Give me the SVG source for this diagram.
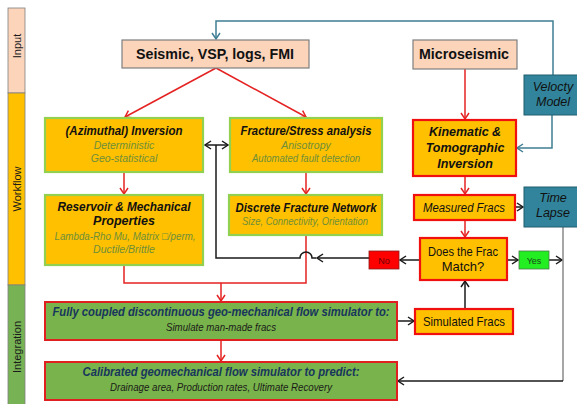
<svg xmlns="http://www.w3.org/2000/svg" width="577" height="404" viewBox="0 0 577 404">
<style>
text{font-family:"Liberation Sans",Arial,sans-serif;}
.band{stroke:#7f7f7f;stroke-width:0.8;}
.bl{font-size:11px;fill:#1a1a1a;text-anchor:middle;}
.in{fill:#FBD4BA;stroke:#7f7f7f;stroke-width:1.2;}
.gb{fill:#FFC000;stroke:#92D050;stroke-width:2.2;}
.rb{fill:#FFC000;stroke:#F01010;stroke-width:2.2;}
.ib{fill:#79B34B;stroke:#E02020;stroke-width:2;}
.tb{fill:#31849B;stroke:#215D6E;stroke-width:1;}
.t{font-size:12.5px;font-weight:bold;font-style:italic;fill:#111;text-anchor:middle;}
.s{font-size:10.5px;font-style:italic;fill:#6E8F3A;text-anchor:middle;}
.h{font-size:15px;font-weight:bold;fill:#111;text-anchor:middle;}
.it{font-size:12.5px;font-style:italic;fill:#111;text-anchor:middle;}
.r{font-size:13px;fill:#111;text-anchor:middle;}
.tt{font-size:12.5px;font-weight:bold;font-style:italic;fill:#17365D;text-anchor:middle;}
.ts{font-size:10.5px;font-style:italic;fill:#1a1a1a;text-anchor:middle;}
.red{stroke:#E52222;stroke-width:1.5;fill:none;}
.blk{stroke:#1a1a1a;stroke-width:1.5;fill:none;}
.teal{stroke:#3F7F93;stroke-width:1.5;fill:none;}
.gray{stroke:#8a8a8a;stroke-width:1.5;fill:none;}
</style>
<defs>
<marker id="ar" markerWidth="10" markerHeight="10" refX="8" refY="5" orient="auto" markerUnits="userSpaceOnUse"><path d="M2,1 L8,5 L2,9" fill="none" stroke="#E52222" stroke-width="1.5"/></marker>
<marker id="ak" markerWidth="10" markerHeight="10" refX="8" refY="5" orient="auto" markerUnits="userSpaceOnUse"><path d="M2,1 L8,5 L2,9" fill="none" stroke="#1a1a1a" stroke-width="1.5"/></marker>
<marker id="aks" markerWidth="10" markerHeight="10" refX="2" refY="5" orient="auto" markerUnits="userSpaceOnUse"><path d="M8,1 L2,5 L8,9" fill="none" stroke="#1a1a1a" stroke-width="1.5"/></marker>
<marker id="at" markerWidth="10" markerHeight="10" refX="8" refY="5" orient="auto" markerUnits="userSpaceOnUse"><path d="M2,1 L8,5 L2,9" fill="none" stroke="#3F7F93" stroke-width="1.5"/></marker>
</defs>
<rect width="577" height="404" fill="#ffffff"/>
<g id="bands">
<rect class="band" x="8" y="8" width="17" height="85" fill="#FBD4BA"/>
<rect class="band" x="8" y="93" width="17" height="192" fill="#FFC000"/>
<rect class="band" x="8" y="285" width="17" height="125" fill="#77B255"/>
<text class="bl" transform="translate(20.5,46) rotate(-90)">Input</text>
<text class="bl" transform="translate(20.5,189) rotate(-90)">Workflow</text>
<text class="bl" transform="translate(20.5,347) rotate(-90)">Integration</text>
</g>
<g id="connectors">
<path class="teal" d="M553,75 L553,21 L216,21 L216,39" marker-end="url(#at)"/>
<path class="teal" d="M552,115 L552,148 L517,148" marker-end="url(#at)"/>
<path class="red" d="M216,68 L125,117" marker-end="url(#ar)"/>
<path class="red" d="M216,68 L306,117" marker-end="url(#ar)"/>
<path class="red" d="M465,69 L465,119" marker-end="url(#ar)"/>
<path class="red" d="M124,172 L124,194" marker-end="url(#ar)"/>
<path class="red" d="M306,172 L306,194" marker-end="url(#ar)"/>
<path class="red" d="M465,176 L465,194" marker-end="url(#ar)"/>
<path class="red" d="M465,220 L465,237" marker-end="url(#ar)"/>
<path class="red" d="M124,265 L124,283 L306,283 L306,235"/>
<path class="red" d="M221,283 L221,301" marker-end="url(#ar)"/>
<path class="red" d="M221,340 L221,361" marker-end="url(#ar)"/>
<path class="blk" d="M205,145 L228,145" marker-start="url(#aks)" marker-end="url(#ak)"/>
<path class="blk" d="M216,145 L216,258 L300,258 A6,6 0 0 1 312,258 L316,258"/>
<path class="blk" d="M369,258 L317,258" marker-end="url(#ak)"/>
<path class="blk" d="M420,260 L400,260" marker-end="url(#ak)"/>
<path class="blk" d="M507,260 L518,260" marker-end="url(#ak)"/>
<path class="blk" d="M549,260 L562,260" marker-end="url(#ak)"/>
<path class="blk" d="M515,207 L523,207" marker-end="url(#ak)"/>
<path class="blk" d="M397,321 L414,321" marker-end="url(#ak)"/>
<path class="blk" d="M465,309 L465,281" marker-end="url(#ak)"/>
<path class="gray" d="M563,227 L563,381"/>
<path class="blk" d="M563,381 L398,381" marker-end="url(#ak)"/>
</g>
<g id="seismic">
<rect class="in" x="122" y="40" width="187" height="28"/>
<text class="h" x="215" y="59" textLength="158" lengthAdjust="spacingAndGlyphs">Seismic, VSP, logs, FMI</text>
</g>
<g id="microseismic">
<rect class="in" x="413" y="40" width="104" height="29"/>
<text class="h" x="464" y="59" textLength="90" lengthAdjust="spacingAndGlyphs">Microseismic</text>
</g>
<g id="velocity">
<rect class="tb" x="524" y="75" width="56" height="40"/>
<text class="it" x="553" y="91">Velocty</text>
<text class="it" x="553" y="106">Model</text>
</g>
<g id="azimuthal">
<rect class="gb" x="45" y="118" width="158" height="54"/>
<text class="t" x="124" y="135" textLength="117" lengthAdjust="spacingAndGlyphs">(Azimuthal) Inversion</text>
<text class="s" x="124" y="149">Deterministic</text>
<text class="s" x="124" y="162">Geo-statistical</text>
</g>
<g id="fracture">
<rect class="gb" x="230" y="118" width="152" height="54"/>
<text class="t" x="306" y="135" textLength="131" lengthAdjust="spacingAndGlyphs">Fracture/Stress analysis</text>
<text class="s" x="306" y="149">Anisotropy</text>
<text class="s" x="306" y="162" textLength="108" lengthAdjust="spacingAndGlyphs">Automated fault detection</text>
</g>
<g id="kinematic">
<rect class="rb" x="413" y="120" width="103" height="56"/>
<text class="t" x="465" y="136">Kinematic &amp;</text>
<text class="t" x="465" y="152">Tomographic</text>
<text class="t" x="465" y="168">Inversion</text>
</g>
<g id="reservoir">
<rect class="gb" x="45" y="195" width="158" height="70"/>
<text class="t" x="124" y="211" textLength="133" lengthAdjust="spacingAndGlyphs">Reservoir &amp; Mechanical</text>
<text class="t" x="124" y="225">Properties</text>
<text class="s" x="125" y="240" textLength="141" lengthAdjust="spacingAndGlyphs">Lambda-Rho Mu, Matrix □/perm,</text>
<text class="s" x="124" y="253">Ductile/Brittle</text>
</g>
<g id="dfn">
<rect class="gb" x="229" y="195" width="153" height="40"/>
<text class="t" x="306" y="212" textLength="141" lengthAdjust="spacingAndGlyphs">Discrete Fracture Network</text>
<text class="s" x="305" y="225" textLength="126" lengthAdjust="spacingAndGlyphs">Size, Connectivity, Orientation</text>
</g>
<g id="measured">
<rect class="rb" x="414" y="195" width="101" height="25"/>
<text class="it" x="464" y="212" textLength="82" lengthAdjust="spacingAndGlyphs">Measured Fracs</text>
</g>
<g id="timelapse">
<rect class="tb" x="524" y="187" width="56" height="40"/>
<text class="it" x="553" y="202">Time</text>
<text class="it" x="553" y="217">Lapse</text>
</g>
<g id="match">
<rect class="rb" x="420" y="238" width="87" height="42"/>
<text class="r" x="463" y="256" textLength="70" lengthAdjust="spacingAndGlyphs">Does the Frac</text>
<text class="r" x="463" y="271">Match?</text>
</g>
<g id="no">
<rect x="369" y="251" width="30" height="18" fill="#FF0000" stroke="#8B1A1A" stroke-width="0.8"/>
<text x="384" y="263.5" font-size="9" fill="#6b0000" text-anchor="middle">No</text>
</g>
<g id="yes">
<rect x="519" y="251" width="30" height="18" fill="#22EE22" stroke="#4a7a4a" stroke-width="0.8"/>
<text x="534" y="263.5" font-size="9" fill="#1a4a1a" text-anchor="middle">Yes</text>
</g>
<g id="simulated">
<rect class="rb" x="415" y="309" width="98" height="25"/>
<text class="r" x="464" y="326" textLength="82" lengthAdjust="spacingAndGlyphs">Simulated Fracs</text>
</g>
<g id="coupled">
<rect class="ib" x="45" y="302" width="352" height="38"/>
<text class="tt" x="221" y="316" textLength="337" lengthAdjust="spacingAndGlyphs">Fully coupled discontinuous geo-mechanical flow simulator to:</text>
<text class="ts" x="221" y="331" textLength="110" lengthAdjust="spacingAndGlyphs">Simulate man-made fracs</text>
</g>
<g id="calibrated">
<rect class="ib" x="45" y="362" width="352" height="38"/>
<text class="tt" x="221" y="376" textLength="277" lengthAdjust="spacingAndGlyphs">Calibrated geomechanical flow simulator to predict:</text>
<text class="ts" x="221" y="391" textLength="222" lengthAdjust="spacingAndGlyphs">Drainage area, Production rates, Ultimate Recovery</text>
</g>
</svg>
